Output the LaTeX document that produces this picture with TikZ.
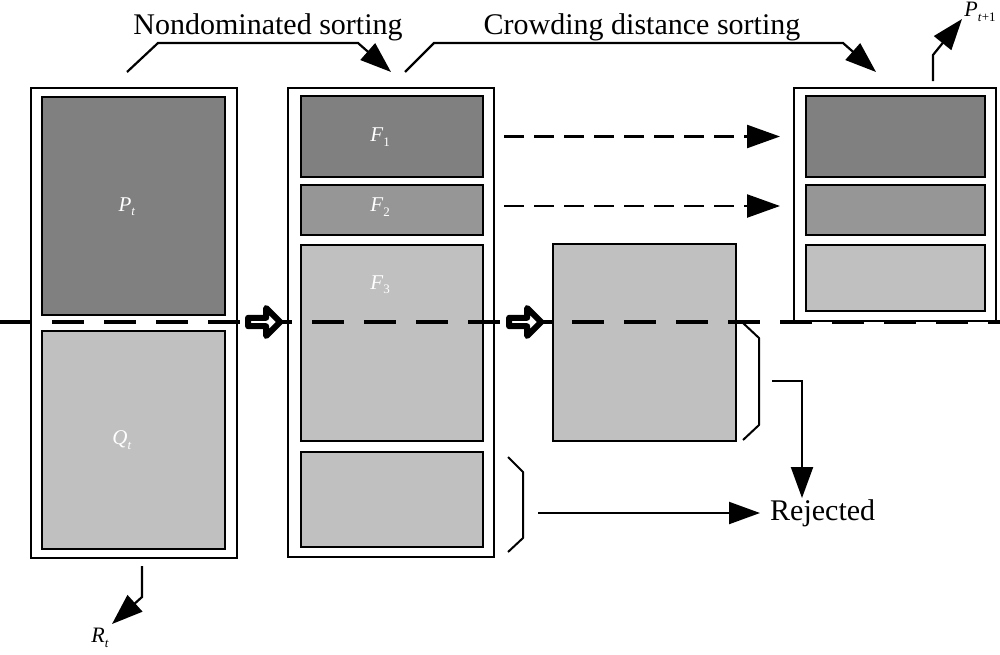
\documentclass[tikz,border=0pt]{standalone}
\usepackage{fontspec}
\setmainfont{Liberation Serif}
\usetikzlibrary{arrows.meta,shapes.arrows,calc}
\definecolor{dark}{RGB}{128,128,128}
\definecolor{mid}{RGB}{150,150,150}
\definecolor{light}{RGB}{192,192,192}
\newcommand\lbl[2]{\textit{#1}\raisebox{-0.45ex}{\fontsize{13}{13}\selectfont#2}}
\tikzset{
  outerbox/.style={draw, line width=2pt, fill=white, inner sep=0pt, anchor=north west},
  innerbox/.style={draw, line width=2pt, inner sep=0pt, anchor=north west},
  boxlabel/.style={text=white, font=\fontsize{21}{21}\selectfont},
  headed/.style={line width=2.2pt, -{Triangle[length=31pt,width=22pt]}},
  dasharrow/.style={line width=2.4pt, dash pattern=on 20pt off 10pt, -{Triangle[length=33pt,width=23pt]}},
  hollow/.style={single arrow, draw, fill=white, line width=6pt, line join=round,
                 inner sep=0pt, minimum height=32pt, minimum width=28pt,
                 single arrow head extend=7pt},
  brace/.style={line width=2pt, line join=round},
  bigtext/.style={font=\fontsize{30}{30}\selectfont, inner sep=0pt},
}
\begin{document}
\begin{tikzpicture}[x=1pt, y=-1pt]
\useasboundingbox (0,0) rectangle (1000,654);

% first column: R_t = P_t + Q_t
\node[outerbox, minimum width=206pt, minimum height=470pt] (rt) at (30,87) {};
\node[innerbox, fill=dark,  minimum width=183pt, minimum height=218pt] (pt) at (41,96) {};
\node[innerbox, fill=light, minimum width=183pt, minimum height=218pt] (qt) at (41,330) {};
\node[boxlabel] (ptl) at (127,207) {\lbl{P}{\textit{t}}};
\node[boxlabel] (qtl) at (122,440) {\lbl{Q}{\textit{t}}};

% second column: fronts
\node[outerbox, minimum width=206pt, minimum height=469pt] (fr) at (287,87) {};
\node[innerbox, fill=dark,  minimum width=182pt, minimum height=81pt]  (f1) at (300,95) {};
\node[innerbox, fill=mid,   minimum width=182pt, minimum height=50pt]  (f2) at (300,184) {};
\node[innerbox, fill=light, minimum width=182pt, minimum height=196pt] (f3) at (300,244) {};
\node[innerbox, fill=light, minimum width=182pt, minimum height=95pt]  (f4) at (300,451) {};
\node[boxlabel] (f1l) at (380,137) {\lbl{F}{1}};
\node[boxlabel] (f2l) at (380,207) {\lbl{F}{2}};
\node[boxlabel] (f3l) at (380,285) {\lbl{F}{3}};

% third column: sorted F_3
\node[innerbox, fill=light, minimum width=183pt, minimum height=197pt] (s3) at (552,243) {};

% new population P_{t+1}
\node[outerbox, minimum width=202pt, minimum height=233pt] (pn) at (793,87) {};
\node[innerbox, fill=dark,  minimum width=179pt, minimum height=81pt] (g1) at (805,95) {};
\node[innerbox, fill=mid,   minimum width=179pt, minimum height=50pt] (g2) at (805,184) {};
\node[innerbox, fill=light, minimum width=179pt, minimum height=66pt] (g3) at (805,244) {};

% cut line
\draw[line width=4pt, dash pattern=on 32pt off 20pt] (0,322) -- (1000,322);

% hollow arrows
\node[hollow] (h1) at (262,322) {};
\node[hollow] (h2) at (523,322) {};

% top labels and arrows
\node[bigtext] (nds) at (268,27) {Nondominated sorting};
\node[bigtext] (cds) at (642,27) {Crowding distance sorting};
\coordinate (n0) at (127,72);
\coordinate (n1) at (158,43);
\coordinate (n2) at (358,43);
\coordinate (n3) at (391,72);
\draw[headed] (n0) -- (n1) -- (n2) -- (n3);
\coordinate (c0) at (405,72);
\coordinate (c1) at (434,43);
\coordinate (c2) at (843,43);
\coordinate (c3) at (876,72);
\draw[headed] (c0) -- (c1) -- (c2) -- (c3);

% P_{t+1} output
\node[font=\fontsize{22}{22}\selectfont, inner sep=0pt] (pnl) at (980,12) {\lbl{P}{\textit{t}+1}};
\coordinate (p0) at (933,81);
\coordinate (p1) at (933,55);
\coordinate (p2) at (962,19);
\draw[headed] (p0) -- (p1) -- (p2);

% R_t label
\node[font=\fontsize{22}{22}\selectfont, inner sep=0pt] (rtl) at (100,638) {\lbl{R}{\textit{t}}};
\coordinate (r0) at (142,566);
\coordinate (r1) at (142,597);
\coordinate (r2) at (112,624);
\draw[headed] (r0) -- (r1) -- (r2);

% dashed transfers
\draw[dasharrow] ([xshift=20pt]f1.east) -- ([xshift=-25pt]g1.west);
\draw[dasharrow] ([xshift=20pt,yshift=4pt]f2.east) -- ([xshift=-25pt,yshift=4pt]g2.west);

% rejected
\node[bigtext, anchor=west] (rej) at (770,513) {Rejected};
\draw[brace] (508,457) -- (523,472) -- (523,538) -- (508,552);
\coordinate (b4) at (538,513);
\draw[headed] (b4) -- ([xshift=-10pt]rej.west);
\draw[brace] (743,323) -- (759,338) -- (759,425) -- (743,440);
\coordinate (b3) at (772,381);
\coordinate (b3c) at (802,381);
\draw[headed] (b3) -- (b3c) -- (802,498);
\end{tikzpicture}
\end{document}
